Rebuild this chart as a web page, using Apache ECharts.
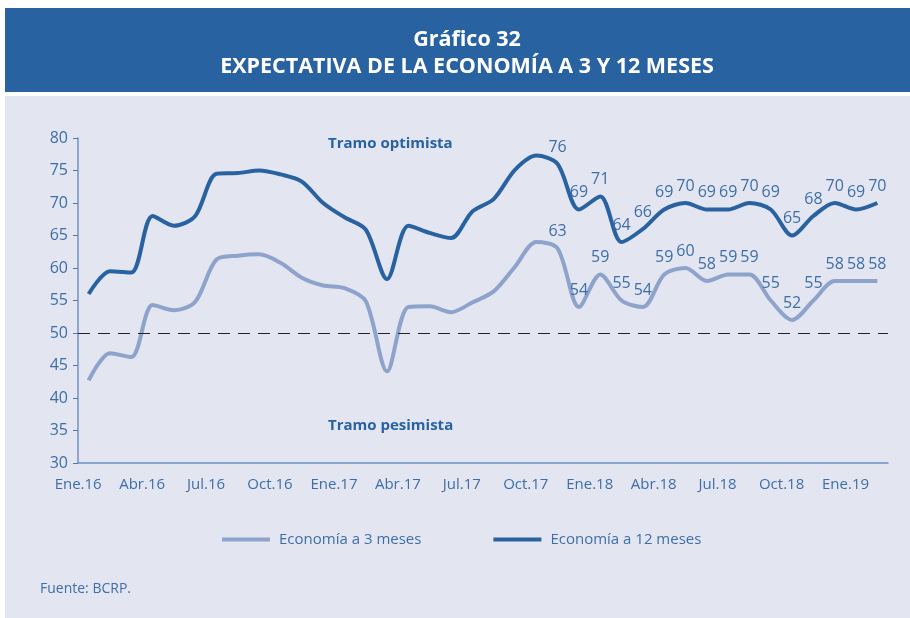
<!DOCTYPE html>
<html>
<head>
<meta charset="utf-8">
<script src="https://cdn.jsdelivr.net/npm/echarts@6/dist/echarts.min.js"></script>
<style>
  html, body { margin: 0; padding: 0; background: #fff; }
  #chart { width: 910px; height: 618px; }
</style>
</head>
<body>
<div id="chart"></div>
<script>
// meses Ene.16 - Feb.19
var meses = ['Ene.16','Feb.16','Mar.16','Abr.16','May.16','Jun.16','Jul.16','Ago.16','Set.16','Oct.16','Nov.16','Dic.16',
             'Ene.17','Feb.17','Mar.17','Abr.17','May.17','Jun.17','Jul.17','Ago.17','Set.17','Oct.17','Nov.17','Dic.17',
             'Ene.18','Feb.18','Mar.18','Abr.18','May.18','Jun.18','Jul.18','Ago.18','Set.18','Oct.18','Nov.18','Dic.18',
             'Ene.19','Feb.19'];

var eco3 = [42.7, 46.9, 46.3, 54.3, 53.5, 54.8, 61.3, 61.9, 62.1, 60.8, 58.5, 57.3,
            56.9, 54.9, 44.1, 54.0, 54.1, 53.2, 54.7, 56.4, 60.2, 64.0, 63, 54,
            59, 55, 54, 59, 60, 58, 59, 59, 55, 52, 55, 58,
            58, 58];

var eco12 = [56.0, 59.5, 59.3, 68.0, 66.5, 68.0, 74.5, 74.6, 75.0, 74.4, 73.3, 70.0,
             67.8, 65.9, 58.3, 66.5, 65.4, 64.6, 68.7, 70.6, 75.1, 77.3, 76, 69,
             71, 64, 66, 69, 70, 69, 69, 70, 69, 65, 68, 70,
             69, 70];

var yTicks = [30, 80, 5];
var primerRotulo = 22; // desde Nov.17 se muestran los valores
var umbral = 50;

var azul = '#2862a0';
var celeste = '#8ea3cc';
var texto = '#3d6ea8';
var fuente = '"Open Sans", "Noto Sans", sans-serif';

function conRotulos(arr) {
    return arr.map(function (v, i) {
        return { value: v, label: { show: i >= primerRotulo } };
    });
}

var myChart = echarts.init(document.getElementById('chart'));

myChart.setOption({
    animation: false,
    textStyle: { fontFamily: fuente },
    graphic: [
        { type: 'rect', left: 5, top: 8, shape: { width: 905, height: 84 }, style: { fill: azul }, z: -10 },
        { type: 'rect', left: 5, top: 96, shape: { width: 905, height: 522 }, style: { fill: '#e3e6f1' }, z: -10 },
        { type: 'text', left: 328, top: 136, style: { text: 'Tramo optimista', fill: azul, font: 'bold 15px ' + fuente } },
        { type: 'text', left: 328, top: 418, style: { text: 'Tramo pesimista', fill: azul, font: 'bold 15px ' + fuente } },
        { type: 'text', left: 40, top: 582, style: { text: 'Fuente: BCRP.', fill: texto, font: '14px ' + fuente } }
    ],
    title: {
        text: 'Gráfico 32\nEXPECTATIVA DE LA ECONOMÍA A 3 Y 12 MESES',
        left: 462,
        top: 21,
        textAlign: 'center',
        textStyle: { color: '#fff', fontSize: 21.5, fontWeight: 'bold', lineHeight: 27, fontFamily: fuente }
    },
    legend: {
        left: 217,
        top: 527,
        icon: 'rect',
        itemWidth: 48,
        itemHeight: 4,
        itemGap: 72,
        textStyle: { color: texto, fontSize: 15, padding: [0, 0, 0, 4] },
        data: ['Economía a 3 meses', 'Economía a 12 meses']
    },
    grid: {
        left: 78,
        right: 22,
        top: 138,
        bottom: 155
    },
    xAxis: {
        type: 'category',
        boundaryGap: true,
        data: meses,
        axisLine: { lineStyle: { color: '#6f93c4', width: 1.5 } },
        axisTick: {
            length: 4,
            interval: function (i) { return i % 3 === 0; },
            lineStyle: { color: '#4f7bb3' }
        },
        axisLabel: {
            interval: function (i) { return i % 3 === 0; },
            margin: 14,
            formatter: function (v) { return '{a|' + v + '}'; },
            rich: { a: { color: texto, fontSize: 15, padding: [0, 21, 0, 0] } }
        },
        splitLine: { show: false }
    },
    yAxis: {
        type: 'value',
        min: yTicks[0],
        max: yTicks[1],
        interval: yTicks[2],
        axisLine: { show: true, lineStyle: { color: '#6f93c4', width: 1.5 } },
        axisTick: { show: true, length: 5, lineStyle: { color: '#4f7bb3' } },
        axisLabel: { color: texto, fontSize: 16, margin: 10 },
        splitLine: { show: false }
    },
    series: [
        {
            name: 'Economía a 3 meses',
            type: 'line',
            smooth: 0.3,
            showSymbol: true,
            symbol: 'circle',
            symbolSize: 0,
            color: celeste,
            lineStyle: { width: 4, color: celeste },
            label: { position: 'top', distance: 9, color: texto, fontSize: 16 },
            data: conRotulos(eco3),
            markLine: {
                silent: true,
                symbol: 'none',
                label: { show: false },
                lineStyle: { color: '#222', type: [12, 8], width: 1.2 },
                data: [{ yAxis: umbral }]
            }
        },
        {
            name: 'Economía a 12 meses',
            type: 'line',
            smooth: 0.3,
            showSymbol: true,
            symbol: 'circle',
            symbolSize: 0,
            color: azul,
            lineStyle: { width: 4, color: azul },
            label: { position: 'top', distance: 9, color: texto, fontSize: 16 },
            data: conRotulos(eco12)
        }
    ]
});
</script>
</body>
</html>
